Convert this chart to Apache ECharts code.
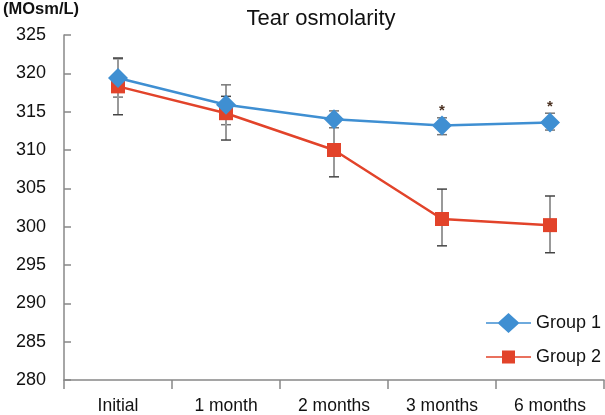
<!DOCTYPE html>
<html><head><meta charset="utf-8">
<script src="https://cdn.jsdelivr.net/npm/echarts@6/dist/echarts.min.js"></script>
<style>html,body{margin:0;padding:0;background:#fff}#c{width:605px;height:415px}</style>
</head><body><div id="c"></div>
<script>
const categories = ['Initial', '1 month', '2 months', '3 months', '6 months'];
const group1 = [319.4, 315.9, 314.0, 313.2, 313.6];
const group2 = [318.3, 314.8, 310.0, 301.0, 300.2];
const group1Low = [316.9, 313.3, 312.9, 312.0, 312.6];
const group1High = [321.9, 318.5, 315.1, 314.2, 314.8];
const group2Low = [314.6, 311.3, 306.5, 297.5, 296.6];
const group2High = [322.0, 317.0, 313.5, 304.9, 304.0];
const starIndex = [3, 4];
const yTicks = [280, 285, 290, 295, 300, 305, 310, 315, 320, 325];

const FONT = 'Liberation Sans, Arial, sans-serif';
const chart = echarts.init(document.getElementById('c'));

function errSeries(low, high, capColor) {
  return {
    type: 'custom', z: 1, silent: true,
    data: categories.map((c, i) => [i, low[i], high[i]]),
    renderItem: (params, api) => {
      const x = api.value(0);
      const p1 = api.coord([x, api.value(1)]);
      const p2 = api.coord([x, api.value(2)]);
      const w = 5;
      return { type: 'group', children: [
        { type: 'line', shape: { x1: p1[0], y1: p1[1], x2: p2[0], y2: p2[1] }, style: { stroke: '#999', lineWidth: 2 } },
        { type: 'line', shape: { x1: p1[0]-w, y1: p1[1], x2: p1[0]+w, y2: p1[1] }, style: { stroke: capColor, lineWidth: 1.5 } },
        { type: 'line', shape: { x1: p2[0]-w, y1: p2[1], x2: p2[0]+w, y2: p2[1] }, style: { stroke: capColor, lineWidth: 1.5 } }
      ]};
    }
  };
}

chart.setOption({
  animation: false,
  title: { text: 'Tear osmolarity', left: 316, top: 3, textAlign: 'center',
    textStyle: { fontFamily: FONT, fontSize: 22, fontWeight: 'normal', color: '#111' } },
  grid: { left: 61, right: 1, top: 35, bottom: 31 },
  legend: {
    orient: 'vertical', left: 481, top: 308, itemWidth: 45, itemHeight: 24, itemGap: 15,
    symbolKeepAspect: true,
    textStyle: { fontFamily: FONT, fontSize: 18, color: '#111' },
    data: [
      { name: 'Group 1', icon: 'path://M0,9.25H45V10.75H0Z M22.5,0L33.5,10L22.5,20L11.5,10Z' },
      { name: 'Group 2', icon: 'path://M0,5.75H45V7.25H0Z M16,0H29V13H16Z' }
    ]
  },
  xAxis: {
    type: 'category', data: categories, boundaryGap: true,
    axisLine: { lineStyle: { color: '#888', width: 1.5 } },
    axisTick: { show: true, length: 9, lineStyle: { color: '#888', width: 1.5 } },
    axisLabel: { fontFamily: FONT, fontSize: 17.5, color: '#111', margin: 17 }
  },
  yAxis: {
    type: 'value', min: 280, max: 325, interval: 5,
    name: '(MOsm/L)', nameLocation: 'end', nameGap: 0,
    nameTextStyle: { fontFamily: FONT, fontSize: 16.5, fontWeight: 'bold', color: '#111', align: 'left', padding: [0, 0, 17, -61] },
    splitLine: { show: false },
    axisLine: { show: true, lineStyle: { color: '#888', width: 1.5 } },
    axisTick: { show: true, inside: true, length: 7, lineStyle: { color: '#888', width: 1.5 } },
    axisLabel: { fontFamily: FONT, fontSize: 18, color: '#111', margin: 18,
      formatter: v => yTicks.includes(v) ? String(v) : '' }
  },
  series: [
    errSeries(group1Low, group1High, '#777'),
    errSeries(group2Low, group2High, '#444'),
    { name: 'Group 2', type: 'line', data: group2, z: 3,
      symbol: 'rect', symbolSize: 14,
      lineStyle: { color: '#E2432A', width: 2.5 }, itemStyle: { color: '#E2432A' } },
    { name: 'Group 1', type: 'line', data: group1, z: 4,
      symbol: 'diamond', symbolSize: [20, 20],
      lineStyle: { color: '#3F8FD2', width: 2.5 }, itemStyle: { color: '#3F8FD2' } },
    { type: 'custom', z: 5, silent: true,
      data: starIndex.map(i => [i, group1High[i]]),
      renderItem: (params, api) => {
        const p = api.coord([api.value(0), api.value(1)]);
        return { type: 'text', x: p[0], y: p[1] + 1,
          style: { text: '*', fill: '#4a3020', font: 'bold 15px ' + FONT, align: 'center', verticalAlign: 'bottom' } };
      }
    }
  ]
});
</script></body></html>
